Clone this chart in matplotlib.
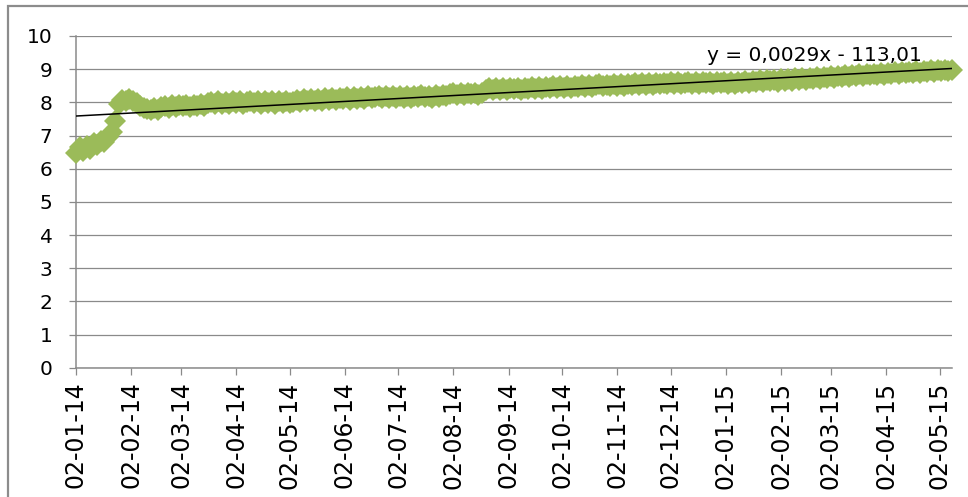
import numpy as np
import pandas as pd
import matplotlib
matplotlib.use("Agg")
import matplotlib.pyplot as plt
import matplotlib.dates as mdates
from matplotlib.patches import Rectangle

# daily readings, one value every second day from 2 Jan 2014
START = "2014-01-02"
STEP_DAYS = 2
values = [
    6.48, 6.64, 6.52, 6.68, 6.60, 6.76, 6.70, 6.84, 6.80, 6.97, 7.10, 7.45, 7.95, 8.08, 8.04, 8.10,
    8.05, 7.98, 7.90, 7.84, 7.80, 7.76, 7.84, 7.78, 7.87, 7.88, 7.83, 7.91, 7.86, 7.93, 7.88,
    7.91, 7.85, 7.93, 7.88, 7.95, 7.89, 7.97, 8.00, 7.94, 8.03, 7.96, 8.02, 7.95, 8.04, 7.97,
    8.03, 7.96, 8.01, 8.05, 7.97, 8.03, 7.95, 8.04, 7.98, 8.05, 7.96, 8.03, 7.98, 8.04, 7.97,
    8.02, 8.07, 8.00, 8.09, 8.03, 8.11, 8.05, 8.10, 8.04, 8.12, 8.07, 8.13, 8.06, 8.14, 8.09,
    8.15, 8.08, 8.16, 8.10, 8.17, 8.11, 8.18, 8.12, 8.15, 8.19, 8.13, 8.18, 8.12, 8.19, 8.14,
    8.18, 8.13, 8.20, 8.14, 8.19, 8.15, 8.21, 8.16, 8.20, 8.14, 8.21, 8.16, 8.23, 8.20, 8.25,
    8.27, 8.22, 8.28, 8.23, 8.29, 8.24, 8.28, 8.23, 8.29, 8.38, 8.43, 8.36, 8.42, 8.37, 8.43,
    8.38, 8.44, 8.39, 8.43, 8.37, 8.44, 8.40, 8.45, 8.39, 8.46, 8.41, 8.47, 8.42, 8.48, 8.43,
    8.48, 8.43, 8.49, 8.44, 8.50, 8.45, 8.51, 8.46, 8.52, 8.47, 8.51, 8.54, 8.48, 8.53, 8.49,
    8.54, 8.49, 8.55, 8.50, 8.56, 8.51, 8.57, 8.52, 8.58, 8.53, 8.57, 8.52, 8.58, 8.54, 8.59,
    8.54, 8.60, 8.55, 8.61, 8.56, 8.59, 8.62, 8.56, 8.61, 8.55, 8.62, 8.57, 8.61, 8.56, 8.62,
    8.57, 8.61, 8.56, 8.60, 8.55, 8.61, 8.57, 8.63, 8.58, 8.64, 8.60, 8.66, 8.61, 8.68, 8.63,
    8.67, 8.62, 8.69, 8.64, 8.70, 8.65, 8.72, 8.67, 8.73, 8.68, 8.74, 8.70, 8.76, 8.71, 8.77,
    8.73, 8.78, 8.74, 8.80, 8.75, 8.81, 8.77, 8.82, 8.78, 8.84, 8.79, 8.85, 8.81, 8.86, 8.82,
    8.87, 8.83, 8.88, 8.84, 8.90, 8.86, 8.91, 8.87, 8.92, 8.88, 8.94, 8.89, 8.95, 8.91, 8.96,
    8.92, 8.97, 8.93, 8.98, 8.94, 8.96,
]
dates = pd.date_range(START, periods=len(values), freq=f"{STEP_DAYS}D")
tick_dates = pd.date_range("2014-01-01", "2015-05-01", freq="MS") + pd.Timedelta(days=1)
y_ticks = list(range(0, 11))
trend_label = "y = 0,0029x - 113,01"

GREEN = "#9BBB59"
GRID = "#8a8a8a"

fig = plt.figure(figsize=(9.68, 4.97), dpi=100)
fig.patches.append(Rectangle((8 / 968, -0.1), 1.2, 1.1 - 6 / 497,
                             transform=fig.transFigure, fill=False,
                             edgecolor="#8c8c8c", linewidth=1.6))
ax = fig.add_axes([76 / 968, 1 - 367.7 / 497, 876 / 968, (367.7 - 36) / 497])

ax.plot(dates, values, linestyle="none", marker="D", markersize=11.5,
        color=GREEN, markeredgewidth=0, clip_on=False, zorder=3)

# linear trend fitted to the series
xnum = mdates.date2num(dates)
slope, intercept = np.polyfit(xnum, values, 1)
ax.plot([dates[0], dates[-1]], [slope * xnum[0] + intercept, slope * xnum[-1] + intercept],
        color="black", linewidth=1.1, zorder=4)
ax.text(0.72, 0.9255, trend_label, transform=ax.transAxes, ha="left", va="baseline",
        fontsize=14.5, color="black", zorder=5)

ax.set_xlim(dates[0], dates[-1])
ax.set_ylim(0, 10)
ax.set_yticks(y_ticks)
ax.set_xticks(tick_dates)
ax.xaxis.set_major_formatter(mdates.DateFormatter("%d-%m-%y"))
ax.grid(axis="y", color=GRID, linewidth=0.9)
ax.set_axisbelow(True)
for side in ("top", "right"):
    ax.spines[side].set_visible(False)
for side in ("left", "bottom"):
    ax.spines[side].set_color(GRID)
    ax.spines[side].set_linewidth(1.1)
ax.tick_params(axis="y", length=5, width=0.9, color=GRID, pad=12, labelsize=14.5)
ax.tick_params(axis="x", length=5, width=0.9, color=GRID, pad=5, labelsize=17,
               labelrotation=90)

fig.savefig("out.png", dpi=100)
